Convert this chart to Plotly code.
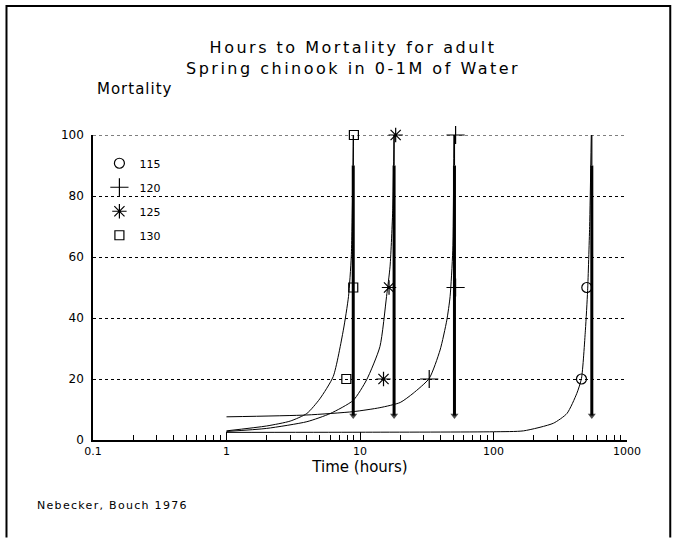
import plotly.graph_objects as go

# ---- data ----
series_names = ["115", "120", "125", "130"]
series_symbols = ["circle-open", "cross-thin-open", "asterisk-open", "square-open"]
series_sizes = [10, 13, 12, 9]

# observed points (hours, % mortality)
obs_115_t = [456, 500]
obs_115_m = [20, 50]
obs_120_t = [33, 52, 52]
obs_120_m = [20, 50, 100]
obs_125_t = [15.0, 16.5, 18.5]
obs_125_m = [20, 50, 100]
obs_130_t = [7.9, 8.9, 9.0]
obs_130_m = [20, 50, 100]

# fitted curves
fit_115_t = [1, 10, 100, 168, 281, 355, 421, 456, 488, 507, 525, 540]
fit_115_m = [2.5, 2.55, 2.7, 3.0, 5.5, 8.7, 15.3, 20.2, 36, 49, 70, 100]
fit_120_t = [1, 4, 8.9, 14.1, 20, 25, 33, 39.8, 44.7, 47.3, 49.5, 50.5]
fit_120_m = [7.6, 8.2, 9.3, 10.6, 12.3, 15.3, 20.2, 29.5, 39.3, 47, 62, 100]
fit_125_t = [1, 2, 4, 6, 8.9, 11.2, 14.1, 15.8, 16.8, 17.6, 18.0]
fit_125_m = [2.8, 3.8, 6.0, 8.7, 13, 19.7, 30.6, 47, 57, 76, 100]
fit_130_t = [1, 2, 3, 4, 5, 6.3, 7.5, 8.2, 8.6, 8.8, 8.95]
fit_130_m = [3.0, 4.6, 6.2, 8.7, 13.5, 20.8, 36, 47, 60, 80, 100]

# LC50 arrow times (hours) and arrow extent (% mortality)
arrow_t = [545, 51, 18.0, 8.9]
arrow_top = 90
arrow_bottom = 8

x_tickvals = [0.1, 1, 10, 100, 1000]
x_ticktext = ["0.1", "1", "10", "100", "1000"]
y_tickvals = [0, 20, 40, 60, 80, 100]

obs_t = [obs_115_t, obs_120_t, obs_125_t, obs_130_t]
obs_m = [obs_115_m, obs_120_m, obs_125_m, obs_130_m]
fit_t = [fit_115_t, fit_120_t, fit_125_t, fit_130_t]
fit_m = [fit_115_m, fit_120_m, fit_125_m, fit_130_m]

FONT = "DejaVu Sans"
fig = go.Figure()

for i in range(4):
    fig.add_trace(go.Scatter(
        x=fit_t[i], y=fit_m[i], mode="lines",
        line=dict(color="black", width=1, shape="spline", smoothing=0.6),
        showlegend=False, hoverinfo="skip", cliponaxis=False))

for i in range(4):
    t = arrow_t[i]
    fig.add_trace(go.Scatter(
        x=[t, t], y=[100, arrow_top], mode="lines",
        line=dict(color="black", width=1.2),
        showlegend=False, hoverinfo="skip", cliponaxis=False))
    fig.add_trace(go.Scatter(
        x=[t, t], y=[arrow_top, arrow_bottom], mode="lines+markers",
        line=dict(color="black", width=3),
        marker=dict(symbol=["line-ew", "triangle-down"], size=[0, 7], color="black",
                    line=dict(width=0)),
        showlegend=False, hoverinfo="skip", cliponaxis=False))

for i in range(4):
    fig.add_trace(go.Scatter(
        x=obs_t[i], y=obs_m[i], mode="markers", name=series_names[i],
        legendgroup=series_names[i],
        marker=dict(symbol=series_symbols[i], size=series_sizes[i], color="black",
                    line=dict(color="black", width=1.2)),
        cliponaxis=False))

fig.update_xaxes(
    type="log", range=[-1, 3], tickvals=x_tickvals, ticktext=x_ticktext,
    ticks="inside", ticklen=8, tickcolor="black", tickwidth=1.3,
    minor=dict(ticks="inside", ticklen=5, tickcolor="black", tickwidth=1.3,
               dtick="D1", showgrid=False),
    showline=True, linecolor="black", linewidth=1.5, showgrid=False,
    zeroline=False,
    tickfont=dict(family=FONT, size=11, color="black"),
    title=dict(text="Time (hours)", font=dict(family=FONT, size=15, color="black"),
               standoff=4),
)
fig.update_yaxes(
    range=[0, 100], tickvals=y_tickvals, ticks="", showline=True,
    linecolor="black", linewidth=1.5, showgrid=True, gridcolor="black",
    griddash="dot", gridwidth=1, zeroline=False, ticklabelstandoff=5,
    tickfont=dict(family=FONT, size=12, color="black"),
)

ann_font = dict(family=FONT, color="black")
fig.update_layout(
    width=676, height=538,
    margin=dict(l=93, r=49, t=135, b=98),
    paper_bgcolor="white", plot_bgcolor="white",
    showlegend=True,
    legend=dict(x=0.012, y=0.955, xanchor="left", yanchor="top",
                bgcolor="rgba(0,0,0,0)", tracegroupgap=5,
                font=dict(family=FONT, size=11, color="black")),
    annotations=[
        dict(text='<span style="letter-spacing:2.5px">Hours to Mortality for adult'
                  '<br>Spring chinook in 0-1M of Water</span>',
             xref="paper", yref="paper", x=0.487, y=1.252, xanchor="center",
             yanchor="middle", showarrow=False, font=dict(size=16, **ann_font)),
        dict(text='<span style="letter-spacing:1px">Mortality</span>',
             xref="paper", yref="paper", x=0.003, y=1.151,
             xanchor="left", yanchor="middle", showarrow=False,
             font=dict(size=15, **ann_font)),
        dict(text='<span style="letter-spacing:1.3px">Nebecker, Bouch 1976</span>',
             xref="paper", yref="paper",
             x=(35 - 93.4) / 533.2, y=(440 - 505) / 305, xanchor="left",
             yanchor="middle", showarrow=False, font=dict(size=11, **ann_font)),
    ],
    shapes=[
        dict(type="path", xref="paper", yref="paper",
             path="M -0.162 -0.32 L -0.162 1.423 L 1.081 1.423 L 1.081 -0.32",
             line=dict(color="black", width=2)),
        dict(type="line", xref="paper", yref="y", x0=0, x1=1,
             y0=y_tickvals[-1], y1=y_tickvals[-1],
             line=dict(color="black", width=1, dash="dot")),
    ],
)

fig.write_html("out.html")
